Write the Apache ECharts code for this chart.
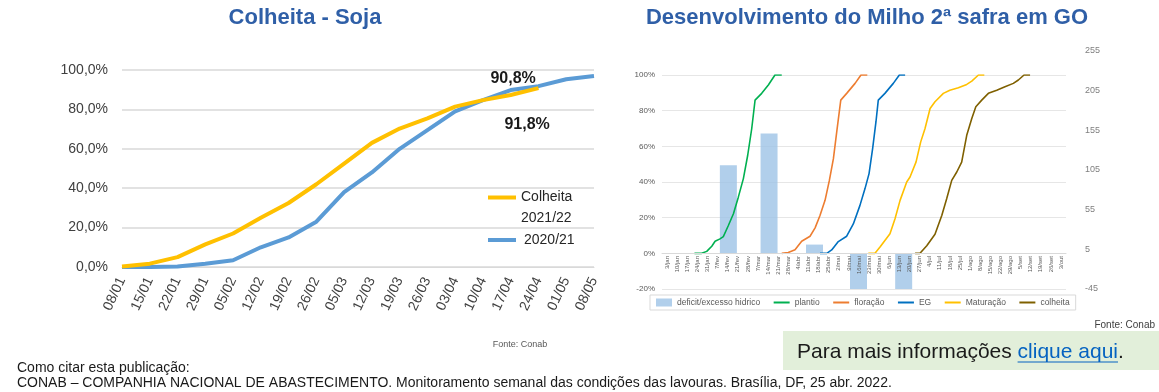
<!DOCTYPE html>
<html><head><meta charset="utf-8">
<script src="https://cdn.jsdelivr.net/npm/echarts@6/dist/echarts.min.js"></script>
<style>html,body{margin:0;padding:0;background:#fff}#c{width:1159px;height:392px}</style>
</head><body><div id="c"></div>
<script>
// ---------- Left chart: Colheita - Soja ----------
const soyDates = ['08/01','15/01','22/01','29/01','05/02','12/02','19/02','26/02','05/03','12/03','19/03','26/03','03/04','10/04','17/04','24/04','01/05','08/05'];
const soy2122 = [0.3,1.7,5,11.5,17,25,32.5,42,52.5,63,70.3,75.4,81.4,84.7,87.3,90.8,null,null];
const soy2021 = [0,0,0.3,1.7,3.4,10,15,23,38,48,60,69.5,79,84.7,89.8,91.8,95.3,97];
const soyLabel2122 = '90,8%';
const soyLabel2021 = '91,8%';

// ---------- Right chart: Milho 2a safra GO ----------
const weekLabels = ['3/jan','10/jan','17/jan','24/jan','31/jan','7/fev','14/fev','21/fev','28/fev','7/mar','14/mar','21/mar','28/mar','4/abr','11/abr','18/abr','25/abr','2/mai','9/mai','16/mai','23/mai','30/mai','6/jun','13/jun','20/jun','27/jun','4/jul','11/jul','18/jul','25/jul','1/ago','8/ago','15/ago','22/ago','29/ago','5/set','12/set','19/set','26/set','3/out'];
// days counted from 3/jan
const plantioDays = [19,24,27.5,31,33.3,36.7,39,42.5,46,49.4,52.9,55.9,58.7,61,65.6,70.2,74.8,79.5];
const plantioPct  = [0,0,1.1,4,6.8,8.1,9.4,15.6,22.2,31.5,41.9,55,70,85.9,89.7,94.4,100,100];
const floracaoDays = [79.5,84,88.7,93.3,99.1,102.6,106,109.5,112.5,115.3,117.6,120.4,124.5,130.3,134.4,138.8];
const floracaoPct  = [0,0.5,2,6.8,9.6,14.3,21.2,29.7,40.9,53.1,68.1,85.9,89.7,95.3,100,100];
const egDays = [106,110.7,114.1,118.7,124.5,129.1,133.7,137.2,140,142.5,144.8,146.4,151,156.8,161,165];
const egPct  = [0,0,1.9,6.6,9.6,16.5,26.9,36.3,44.7,58.8,73.8,85.9,89.7,95.3,100,100];
const maturacaoDays = [139.5,144.1,147.6,154.5,158,161.5,166.1,168.4,172.6,175.8,178.8,182.3,185.7,191.5,196,201.9,207.7,211.2,215.8,219.9];
const maturacaoPct  = [0,0,3.5,11,19.4,29.7,40,42.8,51.3,62.5,70,81.2,85,89.7,91.5,92.8,94.7,96.6,100,100];
const colheitaDays = [171.9,175.3,180,185.7,190.4,193.8,197.3,200.8,204.2,207.7,211.2,214,218.1,222.7,228.5,234.2,240,243.5,247.4,251.6];
const colheitaPct  = [0,0,4.3,10.7,21.2,30.6,40.9,45.6,51.2,66.2,75.6,82.2,85.9,89.7,91.5,93.4,95.3,97.2,100,100];
const hidricoDays = [42.5,70.7,102.2,132.7,164];
const hidricoValues = [111,151,11,-45,-45];

const zip = (a,b) => a.map((v,i)=>[v,b[i]]);
const sans = "'Liberation Sans',Arial,sans-serif";
const lineIcon = 'path://M0,0h16v2H0z';

const chart = echarts.init(document.getElementById('c'), null, {renderer:'canvas'});
const lineSeries = (name, days, pct, color) => ({
  name, type:'line', xAxisIndex:1, yAxisIndex:1, data: zip(days,pct),
  symbol:'none', lineStyle:{color, width:1.6}, itemStyle:{color}, z:3
});
const labelled = (arr, idx, text, pos) => arr.map((v,i)=> i===idx ? {value:v, label:{show:true, formatter:text, position:pos,
  fontSize:16, fontWeight:'bold', color:'#1a1a1a', fontFamily:sans}} : v);

// measure for underline of the link text
const mctx = document.createElement('canvas').getContext('2d');
mctx.font = "21px " + sans;
const linkPre = 'Para mais informações ';
const linkTxt = 'clique aqui';
const linkX0 = 797 + mctx.measureText(linkPre).width;
const linkX1 = linkX0 + mctx.measureText(linkTxt).width;

chart.setOption({
  animation:false,
  grid:[
    {left:122, right:565, top:70, bottom:125},
    {left:662, right:93, top:75, bottom:103},
    {left:662, right:93, top:51, bottom:103},
    {left:662, right:93, top:75, bottom:139}
  ],
  xAxis:[
    {gridIndex:0, type:'category', data:soyDates, boundaryGap:false,
     axisLine:{lineStyle:{color:'#d9d9d9'}}, axisTick:{show:false},
     axisLabel:{rotate:65, fontSize:14, color:'#404040', fontFamily:sans, margin:11}},
    {gridIndex:1, type:'value', min:-3.5, max:276.5, show:false},
    {gridIndex:2, type:'value', min:-3.5, max:276.5, show:false},
    {gridIndex:3, type:'category', data:weekLabels, boundaryGap:true, z:10,
     axisLine:{onZero:false, lineStyle:{color:'#d9d9d9'}}, axisTick:{length:3, lineStyle:{color:'#d9d9d9'}},
     axisLabel:{rotate:90, fontSize:6, color:'#595959', fontFamily:sans, margin:3, interval:0}}
  ],
  yAxis:[
    {gridIndex:0, type:'value', min:0, max:100, interval:20,
     axisLabel:{formatter:v=>v.toFixed(1).replace('.',',')+'%', fontSize:14, color:'#404040', fontFamily:sans, margin:14},
     splitLine:{lineStyle:{color:'#d9d9d9', width:1.5}}, axisLine:{show:false}, axisTick:{show:false}},
    {gridIndex:1, type:'value', min:-20, max:100, interval:20,
     axisLabel:{formatter:v=>v+'%', fontSize:8, color:'#595959', fontFamily:sans, margin:7},
     splitLine:{lineStyle:{color:'#e6e6e6'}}, axisLine:{show:false}, axisTick:{show:false}},
    {gridIndex:2, type:'value', position:'right', min:-45, max:255, interval:50,
     axisLabel:{fontSize:9, color:'#7f7f7f', fontFamily:sans, margin:19},
     splitLine:{show:false}, axisLine:{show:false}, axisTick:{show:false}},
    {gridIndex:3, type:'value', min:0, max:1, show:false}
  ],
  legend:[
    {data:[{name:'Colheita 2021/22', icon:'rect'}], orient:'vertical', left:488, top:166, padding:0,
     itemWidth:28, itemHeight:4,
     formatter:()=> '\nColheita\n2021/22',
     textStyle:{fontSize:14, lineHeight:21, color:'#262626', fontFamily:sans}},
    {data:[{name:'2020/21', icon:'rect'}], orient:'vertical', left:488, top:232, padding:0,
     itemWidth:28, itemHeight:4,
     textStyle:{fontSize:14, lineHeight:16, color:'#262626', fontFamily:sans, padding:[0,0,0,3]}},
    {data:[{name:'deficit/excesso hidrico', icon:'rect'},{name:'plantio', icon:lineIcon},{name:'floração', icon:lineIcon},
           {name:'EG', icon:lineIcon},{name:'Maturação', icon:lineIcon},{name:'colheita', icon:lineIcon}],
     left:650, top:295, width:440, padding:[3,6,3,6], borderColor:'#d9d9d9', borderWidth:1,
     itemGap:13.5, itemWidth:16, itemHeight:8, symbolKeepAspect:true,
     textStyle:{fontSize:8.5, color:'#595959', fontFamily:sans}}
  ],
  series:[
    {name:'Colheita 2021/22', type:'line', xAxisIndex:0, yAxisIndex:0, symbol:'circle', symbolSize:0, showSymbol:true, showAllSymbol:true,
     data: labelled(soy2122, 15, soyLabel2122, [-48,-18]),
     lineStyle:{color:'#ffc000', width:4}, itemStyle:{color:'#ffc000'}, z:4},
    {name:'2020/21', type:'line', xAxisIndex:0, yAxisIndex:0, symbol:'circle', symbolSize:0, showSymbol:true, showAllSymbol:true,
     data: labelled(soy2021, 15, soyLabel2021, [-34,30]),
     lineStyle:{color:'#5b9bd5', width:4}, itemStyle:{color:'#5b9bd5'}, z:3},
    {name:'deficit/excesso hidrico', type:'bar', xAxisIndex:2, yAxisIndex:2, data: zip(hidricoDays, hidricoValues),
     barWidth:17, itemStyle:{color:'rgba(157,195,230,0.8)'}, z:1},
    lineSeries('plantio', plantioDays, plantioPct, '#00b050'),
    lineSeries('floração', floracaoDays, floracaoPct, '#ed7d31'),
    lineSeries('EG', egDays, egPct, '#0070c0'),
    lineSeries('Maturação', maturacaoDays, maturacaoPct, '#ffc000'),
    lineSeries('colheita', colheitaDays, colheitaPct, '#7f6000')
  ],
  graphic:[
    {type:'text', x:305, y:18, style:{text:'Colheita - Soja', font:"bold 22px "+sans, fill:'#2f5fa7', align:'center', verticalAlign:'middle'}},
    {type:'text', x:867, y:18, style:{text:'Desenvolvimento do Milho 2ª safra em GO', font:"bold 22px "+sans, fill:'#2f5fa7', align:'center', verticalAlign:'middle'}},
    {type:'text', x:520, y:345, style:{text:'Fonte: Conab', font:"9px "+sans, fill:'#595959', align:'center', verticalAlign:'middle'}},
    {type:'text', x:1155, y:325, style:{text:'Fonte: Conab', font:"10px "+sans, fill:'#404040', align:'right', verticalAlign:'middle'}},
    {type:'rect', shape:{x:783, y:331, width:376, height:39}, style:{fill:'#e2efda'}, z:-1},
    {type:'text', x:797, y:352, style:{text:'{a|'+linkPre+'}{b|'+linkTxt+'}{a|.}', verticalAlign:'middle',
      rich:{a:{fontSize:21, fontFamily:sans, fill:'#1a1a1a'}, b:{fontSize:21, fontFamily:sans, fill:'#0563c1'}}}},
    {type:'line', shape:{x1:linkX0, y1:362, x2:linkX1, y2:362}, style:{stroke:'#0563c1', lineWidth:1}},
    {type:'text', x:17, y:368, style:{text:'Como citar esta publicação:', font:"14px "+sans, fill:'#1a1a1a', verticalAlign:'middle'}},
    {type:'text', x:17, y:383, style:{text:'CONAB – COMPANHIA NACIONAL DE ABASTECIMENTO. Monitoramento semanal das condições das lavouras. Brasília, DF, 25 abr. 2022.', font:"14px "+sans, fill:'#1a1a1a', verticalAlign:'middle'}}
  ]
});
</script></body></html>
